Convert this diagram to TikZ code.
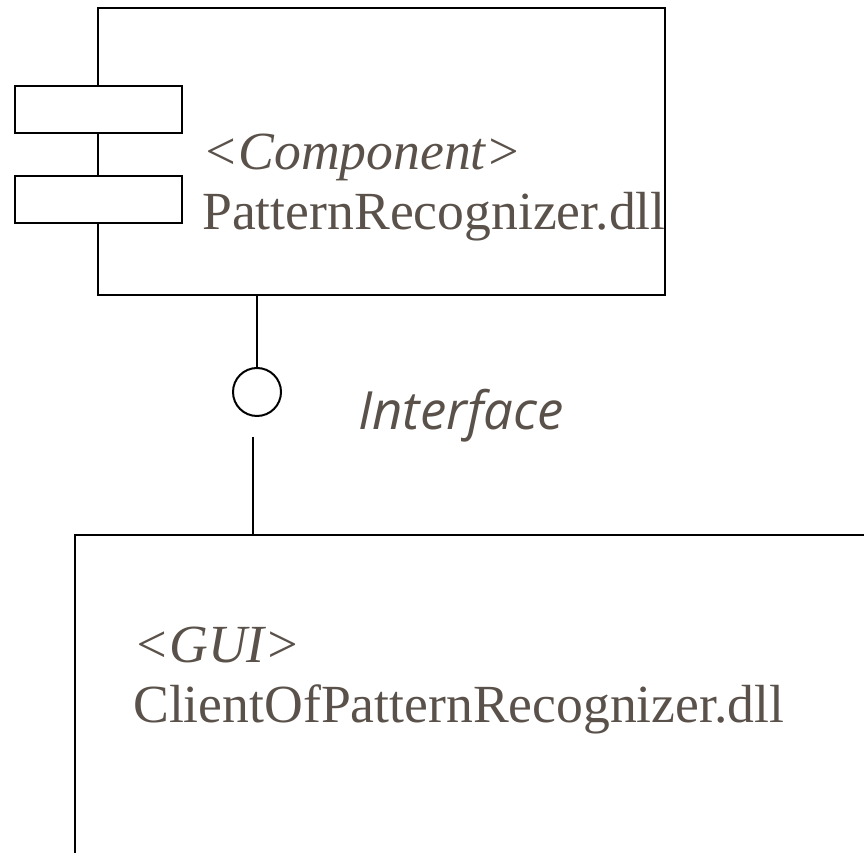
\documentclass[tikz,border=0pt]{standalone}
\usepackage{fontspec}
\setmainfont{Liberation Serif}
\newfontfamily\ifacefont{Open Sans}
\usepackage{tikz}
\usetikzlibrary{calc}
\definecolor{inkgray}{RGB}{90,82,74}
\tikzset{
	umlline/.style={line width=1.7pt, color=black},
	umltext/.style={inner sep=0pt, anchor=base west, color=inkgray, font=\fontsize{45.8}{55}\selectfont},
}

\begin{document}
\begin{tikzpicture}[x=0.03cm, y=-0.03cm]
		%%%%% START %%%%%
		\useasboundingbox (0, 0) rectangle (864, 853);
		
		% component box with its two tabs
		\draw[umlline] (98, 8) rectangle (665, 295);
		\draw[umlline, fill=white] (15, 86) rectangle (182, 133);
		\draw[umlline, fill=white] (15, 176) rectangle (182, 223);
		
		\node[umltext] (stereo) at (202, 170) {\textit{<Component>}};
		\node[umltext] (compname) at (202, 230) {PatternRecognizer.dll};
		
		% lollipop
		\coordinate (compport) at (257, 295);
		\node[umlline, draw, circle, minimum size=48*0.03cm, inner sep=0pt] (iface) at (257, 392) {};
		\draw[umlline] (compport) -- (iface.north);
		
		\node[inner sep=0pt, anchor=base west, color=inkgray, font=\ifacefont\itshape\fontsize{45}{53}\selectfont] (ifacelabel) at (358, 430) {Interface};
		
		\coordinate (socket) at (253, 437);
		\coordinate (clientport) at (253, 535);
		\draw[umlline] (socket) -- (clientport);
		
		% client box, cut off at the right and bottom
		\draw[umlline] (864, 535) -- (75, 535) -- (75, 853);
		
		\node[umltext] (guistereo) at (133, 662) {\textit{<GUI>}};
		\node[umltext] (clientname) at (133, 722) {ClientOfPatternRecognizer.dll};
		
		%%%%% END %%%%%
	\end{tikzpicture}
\end{document}
